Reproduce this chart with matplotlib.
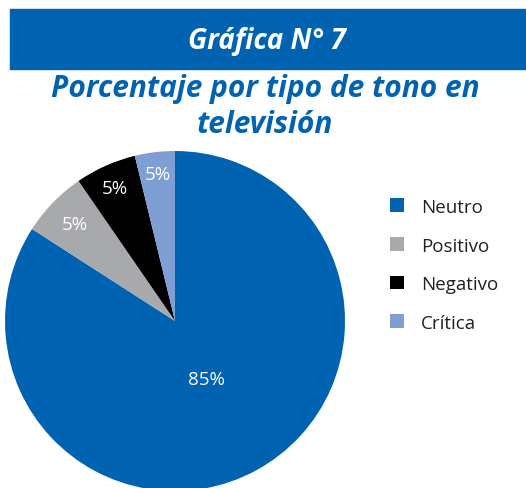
import numpy as np
import matplotlib
matplotlib.use("Agg")
import matplotlib.pyplot as plt
from matplotlib.patches import Rectangle

# data
categories = ["Neutro", "Positivo", "Negativo", "Crítica"]
values = [84.1, 6.3, 5.8, 3.8]
pct_labels = ["85%", "5%", "5%", "5%"]
colors = ["#0063B1", "#A7A9AC", "#000000", "#7F9FD4"]
label_dist = [0.39, 0.82, 0.86, 0.87]

W, H = 526, 489
fig = plt.figure(figsize=(W / 100, H / 100), dpi=100)
fig.patch.set_facecolor("white")

# header band
fig.patches.append(Rectangle((10 / W, 1 - 70 / H), 1, 60 / H,
                             transform=fig.transFigure, color="#0063B1", zorder=0))
fig.text(0.507, 1 - 41 / H, "Gráfica N° 7", color="white", fontsize=20,
         fontweight="bold", fontstyle="italic", family="Open Sans",
         ha="center", va="center")
fig.text(0.504, 1 - 89 / H, "Porcentaje por tipo de tono en", color="#0063B1",
         fontsize=21.5, fontweight="bold", fontstyle="italic", family="Open Sans",
         ha="center", va="center")
fig.text(0.504, 1 - 125 / H, "televisión", color="#0063B1",
         fontsize=21.5, fontweight="bold", fontstyle="italic", family="Open Sans",
         ha="center", va="center")

# pie: centre (175, 322) px, radius 170 px
cx, cy, r = 175, 322, 170
ax = fig.add_axes([(cx - r) / W, (H - cy - r) / H, 2 * r / W, 2 * r / H])
wedges, _ = ax.pie(values, colors=colors, startangle=90, counterclock=False,
                   radius=1, wedgeprops=dict(linewidth=0))
ax.set_xlim(-1, 1)
ax.set_ylim(-1, 1)
ax.axis("off")

for w, lab, d in zip(wedges, pct_labels, label_dist):
    ang = np.deg2rad((w.theta1 + w.theta2) / 2)
    ax.text(d * np.cos(ang), d * np.sin(ang), lab, color="white", fontsize=13.5,
            family="Open Sans", ha="center", va="center")

# legend
leg = fig.legend(wedges, categories, loc="upper left",
                 bbox_to_anchor=(373 / W, 1 - 182 / H), frameon=False,
                 fontsize=13.5, handlelength=0.75, handleheight=0.75,
                 labelspacing=1.1, handletextpad=0.9)
for t in leg.get_texts():
    t.set_color("#231F20")
    t.set_family("Open Sans")

fig.savefig("out.png", dpi=100)
